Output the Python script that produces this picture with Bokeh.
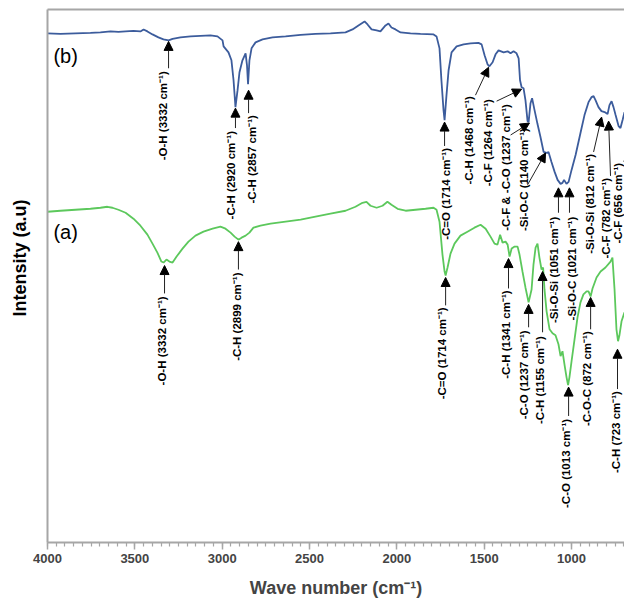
import math
from bokeh.plotting import figure
from bokeh.models import (Range1d, ColumnDataSource, Arrow, NormalHead, Label, Title,
                          LinearAxis, FixedTicker, SingleIntervalTicker)
from bokeh.core.properties import value
from bokeh.embed import file_html
from bokeh.resources import INLINE

# ---- spectrum (b): wave number (cm-1) and intensity (a.u.) ----
wn_b = [4000, 3926, 3840, 3754, 3697, 3639, 3594, 3553, 3508, 3468, 3450, 3428, 3399, 3365,
        3336, 3307, 3284, 3239, 3181, 3124, 3067, 3027, 2998, 2992, 2964, 2947, 2935, 2924,
        2912, 2901, 2884, 2866, 2858, 2852, 2844, 2832, 2809, 2769, 2712, 2637, 2551, 2466,
        2380, 2294, 2254, 2220, 2185, 2168, 2145, 2116, 2094, 2065, 2048, 2031, 2008, 1979,
        1922, 1865, 1790, 1773, 1756, 1745, 1733, 1727, 1716, 1704, 1687, 1658, 1618, 1578,
        1533, 1515, 1498, 1481, 1470, 1452, 1435, 1418, 1389, 1366, 1349, 1332, 1315, 1303,
        1295, 1286, 1275, 1264, 1252, 1246, 1235, 1226, 1212, 1195, 1178, 1160, 1143, 1132,
        1115, 1097, 1080, 1063, 1052, 1043, 1029, 1017, 1000, 977, 949, 926, 903, 886, 874,
        863, 846, 829, 811, 794, 783, 771, 760, 748, 731, 720, 708, 697]
int_b = [511, 510.5, 511, 511.5, 512, 513, 512.5, 513, 513.5, 513, 515, 513, 510, 507,
         505, 504, 505.5, 507, 508, 508.5, 509, 508, 504, 498, 492, 484, 464, 437,
         454, 472, 484, 491, 479, 460, 484, 496, 502, 505, 507, 508, 509.5, 510.5,
         511, 512, 515, 519, 523, 520, 515, 514, 513, 519, 521, 517, 515, 512,
         511, 510.5, 510, 508, 496, 464, 434, 424, 449, 474, 492, 498, 500, 501,
         501.5, 500, 489, 480, 478, 482, 490, 494, 492, 493, 491, 493, 491, 486,
         464, 457, 456, 444, 423, 422, 441, 446, 434, 420, 407, 392, 391, 392,
         382, 372, 364, 360, 361, 364, 360, 362, 374, 389, 411, 429, 442, 447, 448,
         444, 437, 433, 432, 430, 439, 443, 437, 429, 418, 416, 424, 432]

# ---- spectrum (a) ----
wn_a = [4000, 3926, 3840, 3754, 3697, 3657, 3628, 3594, 3553, 3508, 3468, 3428, 3399, 3371,
        3348, 3336, 3319, 3302, 3284, 3261, 3227, 3193, 3153, 3107, 3055, 3010, 2981, 2952,
        2929, 2907, 2889, 2866, 2844, 2821, 2781, 2723, 2637, 2551, 2466, 2380, 2294, 2237,
        2197, 2174, 2151, 2116, 2082, 2054, 2031, 1996, 1950, 1893, 1836, 1790, 1773, 1756,
        1739, 1727, 1721, 1710, 1693, 1670, 1636, 1596, 1556, 1521, 1492, 1464, 1441, 1424,
        1409, 1395, 1378, 1366, 1355, 1343, 1326, 1309, 1298, 1281, 1264, 1246, 1229, 1218,
        1206, 1195, 1184, 1172, 1163, 1155, 1143, 1126, 1109, 1092, 1075, 1063, 1052, 1040,
        1029, 1020, 1012, 1000, 983, 966, 949, 932, 914, 903, 891, 880, 857, 834, 806, 777,
        766, 754, 743, 734, 726, 714, 697]
int_a = [332, 333, 334, 335, 336, 337, 336, 334, 331, 325, 318, 309, 300, 291,
         282, 281, 284, 282, 281, 287, 295, 302, 308, 312, 315, 317, 315, 311,
         307, 304, 306, 308, 311, 316, 318, 320, 322, 324, 327, 330, 333, 337,
         341, 342, 338, 336, 338, 342, 339, 335, 333, 334, 335, 336, 334, 322,
         289, 272, 268, 276, 290, 300, 308, 312, 316, 319, 315, 307, 300, 299,
         309, 301, 302, 299, 287, 295, 297, 297, 289, 272, 256, 241, 254, 279,
         296, 300, 286, 274, 276, 254, 232, 214, 210, 208, 199, 187, 192, 178,
         166, 158, 166, 182, 204, 226, 241, 249, 252, 252, 247, 255, 266, 272, 276, 282,
         286, 254, 214, 202, 208, 222, 231]

# ---- band assignments ----
ann_text = ["-O-H (3332 cm⁻¹)", "-C-H (2920 cm⁻¹)", "-C-H (2857 cm⁻¹)", "-C=O (1714 cm⁻¹)",
            "-C-H (1468 cm⁻¹)", "-C-F (1264 cm⁻¹)", "-C-F & -C-O (1237 cm⁻¹)",
            "-Si-O-C (1140 cm⁻¹)", "-Si-O-Si (1051 cm⁻¹)", "-Si-O-C (1021 cm⁻¹)",
            "-Si-O-Si (812 cm⁻¹)", "-C-F (782 cm⁻¹)", "-C-F (656 cm⁻¹)",
            "-O-H (3332 cm⁻¹)", "-C-H (2899 cm⁻¹)", "-C=O (1714 cm⁻¹)", "-C-H (1341 cm⁻¹)",
            "-C-O (1237 cm⁻¹)", "-C-H (1155 cm⁻¹)", "-C-O (1013 cm⁻¹)", "-C-O-C (872 cm⁻¹)",
            "-C-H (723 cm⁻¹)"]
ann_tip_x = [3307, 2924, 2849, 1727, 1475, 1286, 1241, 1149, 1075, 1012, 828, 788, 657,
             3330, 2907, 1721, 1361, 1246, 1166, 1017, 891, 737]
ann_tip_y = [503, 436, 454, 422, 477, 455, 421, 391, 356, 356, 427, 423, 416,
             278, 302, 266, 285, 239, 272, 156, 246, 194]
ann_tail_x = [3307, 2924, 2849, 1727, 1550, 1429, 1349, 1252, 1075, 1012, 874, 777, 700,
              3330, 2907, 1721, 1361, 1246, 1166, 1017, 891, 737]
ann_tail_y = [476, 416, 431, 398, 449, 443, 409, 359, 331, 331, 392, 368, 382,
              250, 274, 238, 255, 216, 211, 127, 214, 154]
ann_lab_x = [3336, 2952, 2832, 1716, 1590, 1481, 1378, 1275, 1103, 1000, 897, 805, 737,
             3347, 2918, 1739, 1378, 1275, 1183, 1034, 909, 748]
ann_lab_y = [473, 413, 429, 396, 448, 445, 440, 416, 327, 327, 390, 366, 381,
             247, 271, 236, 253, 213, 207, 124, 212, 152]

x_ticks_step = 500
FONT = "Liberation Sans"
GRAY = "#a6a6a6"

p = figure(width=624, height=600, output_backend="svg", toolbar_location=None,
           x_range=Range1d(4000, 697), y_range=Range1d(0, 535),
           min_border_left=47, min_border_right=0, min_border_top=9, min_border_bottom=56)
p.outline_line_color = None
p.xgrid.visible = False
p.ygrid.visible = False
p.background_fill_color = "white"
p.border_fill_color = "white"

p.line(wn_b, int_b, line_color="#3c5c9c", line_width=1.8)
p.line(wn_a, int_a, line_color="#5cc85c", line_width=1.8)

src = ColumnDataSource(dict(x0=ann_tail_x, y0=ann_tail_y, x1=ann_tip_x, y1=ann_tip_y,
                            lx=ann_lab_x, ly=ann_lab_y, t=ann_text))
p.add_layout(Arrow(end=NormalHead(size=9, fill_color="black", line_color="black", line_width=1),
                   x_start="x0", y_start="y0", x_end="x1", y_end="y1", source=src,
                   line_color="#222222", line_width=1))
p.text(x="lx", y="ly", text="t", source=src, angle=math.pi / 2, text_align="right",
       text_baseline="middle", text_font=value(FONT), text_font_size="11.5px",
       text_font_style="bold", text_color="black")

for name, yv in (("(b)", 488), ("(a)", 312)):
    p.add_layout(Label(x=3966, y=yv, text=name, text_font=FONT, text_font_size="20px",
                       text_align="left", text_baseline="middle", text_color="black"))

# x axis
xa = p.xaxis[0]
xa.ticker = SingleIntervalTicker(interval=x_ticks_step, num_minor_ticks=10)
xa.axis_label = "Wave number (cm⁻¹)"
xa.axis_label_text_font = FONT
xa.axis_label_text_font_size = "18px"
xa.axis_label_text_font_style = "bold"
xa.axis_label_standoff = 12
xa.major_label_text_font = FONT
xa.major_label_text_font_size = "13px"
xa.major_label_text_font_style = "bold"
xa.major_label_standoff = 4
xa.axis_line_color = GRAY
xa.axis_line_width = 2
xa.major_tick_line_color = GRAY
xa.minor_tick_line_color = GRAY
xa.major_tick_line_width = 1.5
xa.minor_tick_line_width = 1.2
xa.major_tick_out = 7
xa.major_tick_in = 0
xa.minor_tick_out = 4
xa.minor_tick_in = 0

# y axis: no ticks; a blank axis label reserves the gap before the title
ya = p.yaxis[0]
ya.ticker = FixedTicker(ticks=[])
ya.major_label_text_font_size = "0px"
ya.major_tick_line_color = None
ya.minor_tick_line_color = None
ya.axis_line_color = GRAY
ya.axis_line_width = 2
ya.major_label_standoff = 0
ya.axis_label = " "
ya.axis_label_text_font_size = "8px"
ya.axis_label_standoff = 5
p.add_layout(Title(text="Intensity (a.u)", align="left", offset=226, standoff=0,
                   vertical_align="middle", text_font=FONT, text_font_size="18px",
                   text_font_style="bold", text_color="black"), "left")

# top border line
top = LinearAxis(ticker=FixedTicker(ticks=[]), major_label_text_font_size="0px",
                 major_tick_line_color=None, minor_tick_line_color=None,
                 axis_line_color=GRAY, axis_line_width=2)
p.add_layout(top, "above")

open("out.html", "w").write(file_html(p, INLINE))
